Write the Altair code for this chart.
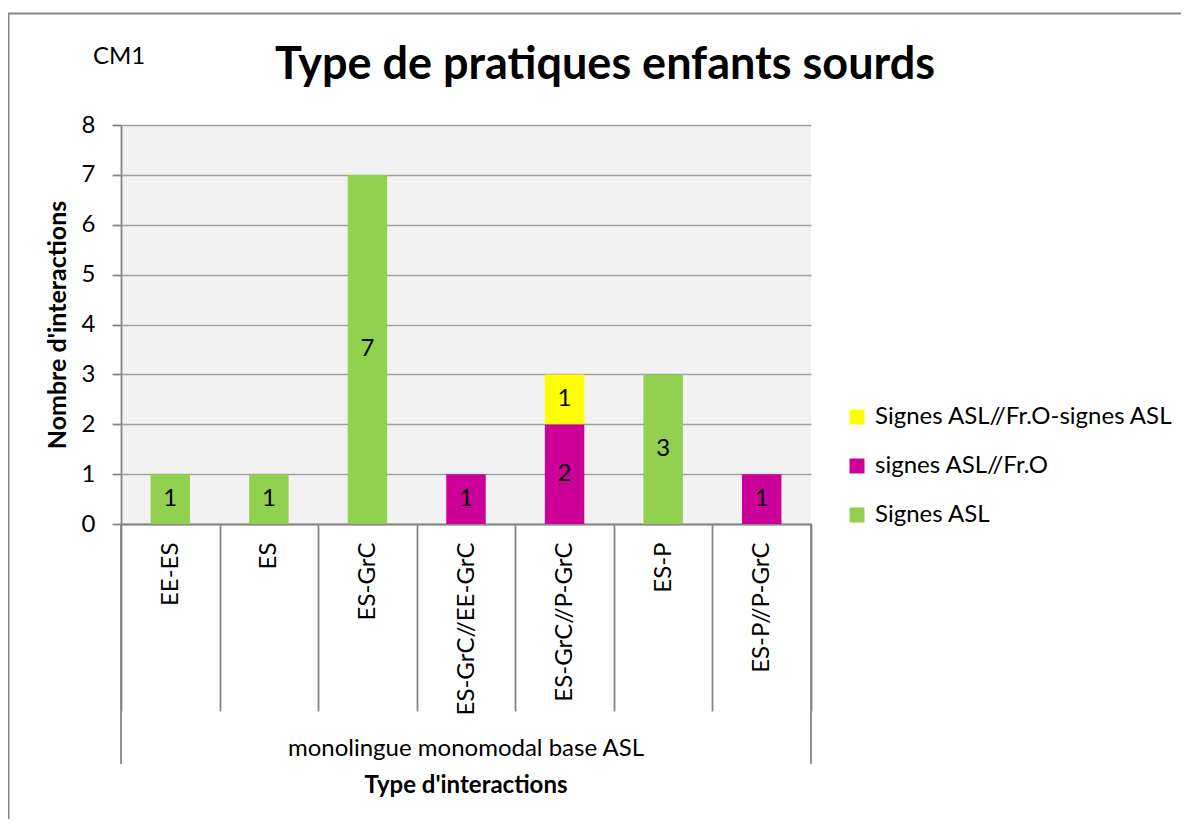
import altair as alt
import pandas as pd

FONT = "Lato"

categories = ["EE-ES", "ES", "ES-GrC", "ES-GrC//EE-GrC", "ES-GrC//P-GrC", "ES-P", "ES-P//P-GrC"]
series_names = ["Signes ASL//Fr.O-signes ASL", "signes ASL//Fr.O", "Signes ASL"]
series_colors = ["#ffff00", "#cc0099", "#92d050"]
signes_asl = [1, 1, 7, 0, 0, 3, 0]
signes_asl_fro = [0, 0, 0, 1, 2, 0, 1]
signes_asl_fro_signes = [0, 0, 0, 0, 1, 0, 0]
y_ticks = [0, 1, 2, 3, 4, 5, 6, 7, 8]
group_label = "monolingue monomodal base ASL"

rows = []
for rank, (name, vals) in enumerate([("Signes ASL", signes_asl),
                                     ("signes ASL//Fr.O", signes_asl_fro),
                                     ("Signes ASL//Fr.O-signes ASL", signes_asl_fro_signes)]):
    for c, v in zip(categories, vals):
        if v > 0:
            rows.append({"cat": c, "serie": name, "value": v, "rank": rank})
df = pd.DataFrame(rows)

W, H = 690, 399
GRAY = "#868686"

x_scale = alt.Scale(paddingInner=0, paddingOuter=0)

x_enc = alt.X("cat:N", sort=categories, scale=x_scale,
              axis=alt.Axis(title=None, labelAngle=-90, labelFont=FONT, labelFontSize=24,
                            labelColor="black", tickBand="extent", tickSize=187,
                            tickColor=GRAY, tickWidth=1.8, domainColor=GRAY, domainWidth=1.8,
                            labelPadding=-169, grid=False))

bars = alt.Chart(df).mark_bar(width=alt.RelativeBandSize(0.4)).encode(
    x=x_enc,
    y=alt.Y("value:Q", stack="zero", scale=alt.Scale(domain=[0, 8]),
            axis=alt.Axis(title=None, values=y_ticks, labelFont=FONT, labelFontSize=24,
                          labelColor="black", tickSize=9, tickColor=GRAY, tickWidth=1.8,
                          domainColor=GRAY, domainWidth=1.8,
                          labelPadding=17, gridColor="#a0a0a0", gridWidth=1.3)),
    color=alt.Color("serie:N", scale=alt.Scale(domain=series_names, range=series_colors),
                    legend=alt.Legend(title=None, orient="none", legendX=724, legendY=280,
                                      symbolType="square", symbolSize=225, symbolStrokeWidth=0,
                                      labelFont=FONT, labelFontSize=24, labelColor="black",
                                      labelOffset=6, rowPadding=25, labelLimit=400)),
    order=alt.Order("rank:Q", sort="ascending"),
)

labels = alt.Chart(df).transform_stack(
    stack="value", groupby=["cat"], as_=["v0", "v1"],
    sort=[alt.SortField("rank", order="ascending")]
).transform_calculate(mid="(datum.v0 + datum.v1) / 2").mark_text(
    font=FONT, fontSize=24, color="black", baseline="middle"
).encode(x=alt.X("cat:N", sort=categories, scale=x_scale), y=alt.Y("mid:Q"), text="value:Q")

one = pd.DataFrame({"t": [""]})

title = alt.Chart(pd.DataFrame({"t": ["Type de pratiques enfants sourds"]})).mark_text(
    font=FONT, fontSize=45, fontWeight="bold", color="black", align="center", baseline="alphabetic"
).encode(x=alt.value(484), y=alt.value(-46), text="t:N")

cm1 = alt.Chart(pd.DataFrame({"t": ["CM1"]})).mark_text(
    font=FONT, fontSize=24, color="black", align="left", baseline="alphabetic"
).encode(x=alt.value(-28), y=alt.value(-61), text="t:N")

ytitle = alt.Chart(pd.DataFrame({"t": ["Nombre d'interactions"]})).mark_text(
    font=FONT, fontSize=25, fontWeight="bold", color="black", align="center",
    baseline="middle", angle=270
).encode(x=alt.value(-63), y=alt.value(200), text="t:N")

glabel = alt.Chart(pd.DataFrame({"t": [group_label]})).mark_text(
    font=FONT, fontSize=24, color="black", align="center", baseline="alphabetic"
).encode(x=alt.value(345), y=alt.value(631), text="t:N")

xtitle = alt.Chart(pd.DataFrame({"t": ["Type d'interactions"]})).mark_text(
    font=FONT, fontSize=24, fontWeight="bold", color="black", align="center", baseline="alphabetic"
).encode(x=alt.value(345), y=alt.value(668), text="t:N")

edge_l = alt.Chart(one).mark_rule(color=GRAY, strokeWidth=1.8).encode(
    x=alt.value(0), y=alt.value(399), y2=alt.value(639))
edge_r = alt.Chart(one).mark_rule(color=GRAY, strokeWidth=1.8).encode(
    x=alt.value(690), y=alt.value(399), y2=alt.value(639))

frame_top = alt.Chart(one).mark_rule(color=GRAY, strokeWidth=2).encode(
    x=alt.value(-113), x2=alt.value(1100), y=alt.value(-111.5))
frame_left = alt.Chart(one).mark_rule(color=GRAY, strokeWidth=2).encode(
    x=alt.value(-112.5), y=alt.value(-112), y2=alt.value(720))

chart = alt.layer(bars, labels, title, cm1, ytitle, glabel, xtitle, edge_l, edge_r,
                  frame_top, frame_left).properties(
    width=W, height=H,
    autosize=alt.AutoSizeParams(type="none"),
    padding={"left": 113, "top": 117, "right": 370, "bottom": 295},
    background="white",
).configure_view(fill="#f2f2f2", stroke=None)

chart.save("out.html", embed_options={"renderer": "svg", "actions": False})
